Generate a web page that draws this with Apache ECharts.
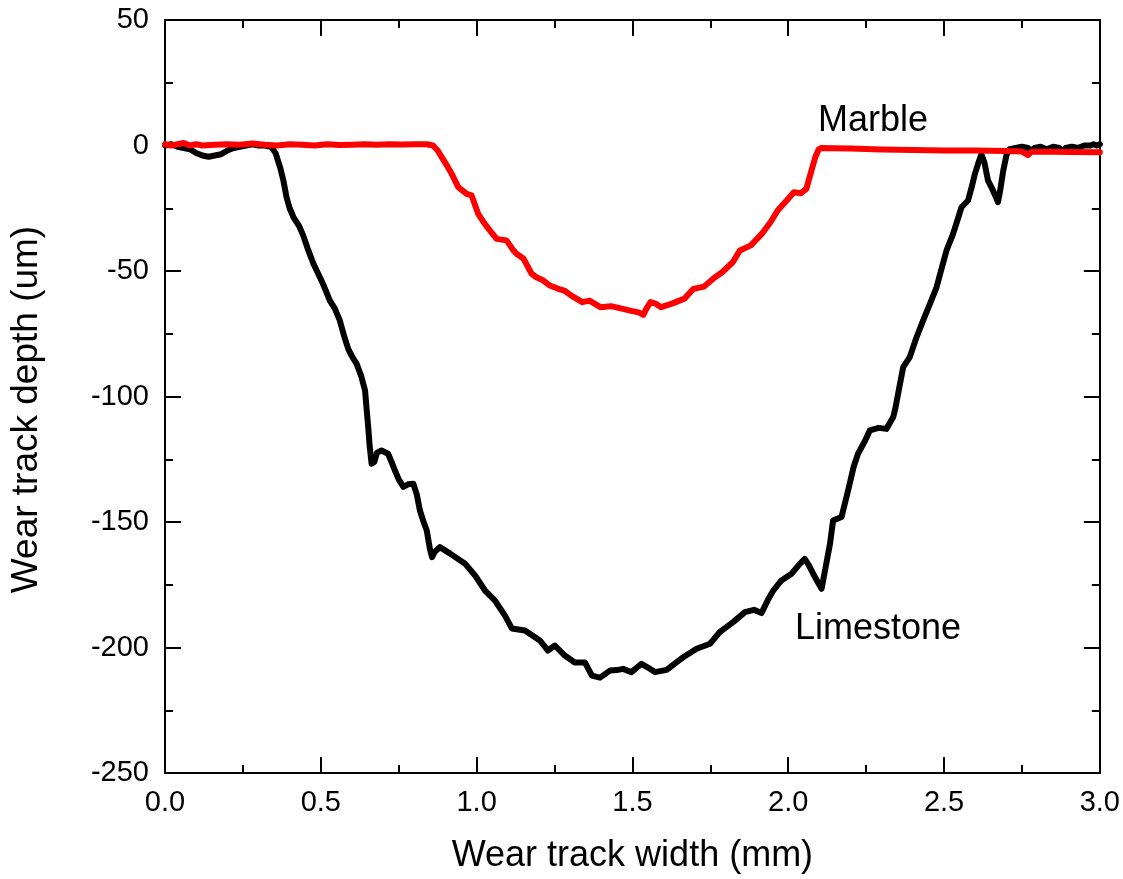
<!DOCTYPE html>
<html>
<head>
<meta charset="utf-8">
<script src="https://cdn.jsdelivr.net/npm/echarts@6/dist/echarts.min.js"></script>
<style>html,body{margin:0;padding:0;background:#fff}#chart{width:1123px;height:879px}</style>
</head>
<body>
<div id="chart"></div>
<script>
// ---- data ----
const limestoneX = [0.00,0.02,0.04,0.06,0.08,0.10,0.12,0.14,0.16,0.18,0.20,0.22,0.24,0.26,0.28,0.30,0.32,0.34,0.355,0.37,0.38,0.39,0.40,0.412,0.43,0.444,0.46,0.476,0.497,0.51,0.529,0.545,0.561,0.575,0.588,0.60,0.615,0.63,0.642,0.647,0.652,0.657,0.663,0.672,0.68,0.695,0.716,0.73,0.738,0.75,0.765,0.78,0.797,0.808,0.818,0.83,0.84,0.85,0.857,0.865,0.882,0.914,0.962,0.995,1.027,1.059,1.091,1.113,1.155,1.203,1.229,1.251,1.283,1.315,1.348,1.37,1.396,1.428,1.45,1.47,1.497,1.529,1.55,1.572,1.61,1.64,1.663,1.706,1.749,1.78,1.823,1.861,1.89,1.914,1.935,1.952,1.978,2.011,2.035,2.053,2.065,2.08,2.095,2.107,2.12,2.134,2.144,2.171,2.192,2.21,2.224,2.245,2.262,2.29,2.315,2.337,2.345,2.357,2.369,2.39,2.41,2.433,2.455,2.476,2.49,2.508,2.529,2.545,2.556,2.577,2.59,2.599,2.61,2.62,2.63,2.641,2.657,2.668,2.673,2.68,2.69,2.70,2.71,2.73,2.75,2.77,2.78,2.79,2.81,2.83,2.85,2.87,2.88,2.89,2.91,2.93,2.95,2.97,2.98,2.99,3.00];
const limestoneY = [0,0.5,-0.5,-1,-1.5,-3,-4,-4.5,-4,-3.5,-2,-1,-0.5,0,0.5,0,0,-0.5,-3,-9,-14,-20.6,-25,-28.5,-32,-36,-41.8,-47,-52.5,-56,-61.8,-65,-69.7,-76,-81,-84,-87,-92,-97.6,-105,-112,-120,-126.8,-126,-122.5,-121.5,-122.8,-127,-129.5,-133,-136,-135,-134.8,-139,-145.4,-150,-153.4,-160.7,-164,-162,-160,-162.5,-166.5,-171.3,-177.3,-181.3,-187.3,-192.4,-193.2,-197.2,-201.2,-199.2,-203.2,-206,-206,-211.2,-212,-209.2,-209,-208.5,-209.8,-206.5,-208,-209.8,-208.9,-206,-203.9,-200.5,-198.5,-193.9,-189.9,-185.9,-185,-186.3,-181,-177.3,-173.3,-170.6,-167,-164.7,-167,-170.6,-174,-176.6,-168,-158.7,-149.4,-148,-137.5,-128,-122.8,-118,-113.5,-112.5,-112.9,-108.2,-104,-96,-88.3,-84.3,-77,-69.7,-63,-56.5,-50,-41.8,-35.2,-29,-24.6,-21.9,-16,-11.3,-7,-3.5,-7,-13.9,-17.9,-21,-22.6,-18,-10,-4,-1.5,-1,-0.5,-1,-2,-1,-0.5,-1.5,-0.5,-1,-2,-1,-0.5,-1,0,0,0.5,0,0.5];

const marbleX = [0.00,0.02,0.04,0.06,0.08,0.10,0.12,0.16,0.20,0.24,0.28,0.32,0.36,0.40,0.44,0.48,0.52,0.56,0.60,0.64,0.68,0.72,0.76,0.80,0.84,0.86,0.866,0.875,0.888,0.90,0.92,0.941,0.968,0.984,1.005,1.025,1.043,1.064,1.096,1.118,1.128,1.15,1.176,1.192,1.214,1.235,1.26,1.281,1.304,1.339,1.362,1.397,1.431,1.466,1.50,1.52,1.535,1.545,1.558,1.575,1.592,1.627,1.667,1.696,1.73,1.765,1.788,1.822,1.845,1.88,1.915,1.943,1.966,1.995,2.018,2.041,2.058,2.07,2.087,2.098,2.105,2.2,2.3,2.4,2.5,2.6,2.7,2.75,2.77,2.78,2.85,2.9,3.0];
const marbleY = [0.5,0,0.5,1,0,0.5,0,0.3,0.5,0.3,0.8,0.3,0,0.5,0.3,0,0.5,0.2,0.3,0.5,0.3,0.5,0.4,0.5,0.5,0,-0.5,-2,-4.6,-7,-11.3,-16.6,-19.3,-19.9,-27.2,-31,-33.9,-37.2,-37.8,-41.8,-43.1,-45,-51,-52.5,-53.8,-55.8,-57,-57.8,-59.8,-62.4,-61.8,-64.4,-64,-65,-66,-66.5,-67.5,-65,-62.4,-63,-64.4,-63,-61,-57.1,-56.2,-52.5,-50.5,-46.5,-41.8,-39.8,-35.2,-30.6,-25.9,-21.9,-18.6,-19,-17.3,-12,-4.6,-1.5,-1,-1.2,-1.6,-1.8,-2,-2,-2.2,-2.4,-3.8,-2.5,-2.5,-2.6,-2.7];

const xTitle = 'Wear track width (mm)';
const yTitle = 'Wear track depth (um)';
const labelMarble = 'Marble';
const labelLimestone = 'Limestone';

// ---- chart ----
const FONT = '"Liberation Sans", Arial, Helvetica, sans-serif';
const pair = (xs, ys) => xs.map((x, i) => [x, ys[i]]);

const tickCommon = {
  axisLine: { show: true, onZero: false, lineStyle: { color: '#000', width: 2 } },
  axisTick: { show: true, inside: true, length: 16, lineStyle: { color: '#000', width: 2 } },
  minorTick: { show: true, splitNumber: 2, length: 8, lineStyle: { color: '#000', width: 2 } },
  splitLine: { show: false },
  minorSplitLine: { show: false }
};

const chart = echarts.init(document.getElementById('chart'), null, { renderer: 'canvas' });
chart.setOption({
  backgroundColor: '#fff',
  animation: false,
  grid: { left: 165, right: 22, top: 20, bottom: 105, containLabel: false },
  xAxis: [
    Object.assign({
      type: 'value', min: 0, max: 3, interval: 0.5, position: 'bottom',
      name: xTitle, nameLocation: 'middle', nameGap: 65,
      nameTextStyle: { fontFamily: FONT, fontSize: 36, color: '#000' },
      axisLabel: { margin: 15, fontFamily: FONT, fontSize: 29, color: '#000',
        formatter: v => v.toFixed(1) }
    }, tickCommon),
    Object.assign({
      type: 'value', min: 0, max: 3, interval: 0.5, position: 'top',
      axisLabel: { show: false }
    }, tickCommon)
  ],
  yAxis: [
    Object.assign({
      type: 'value', min: -250, max: 50, interval: 50, position: 'left',
      name: yTitle, nameLocation: 'middle', nameGap: 120,
      nameTextStyle: { fontFamily: FONT, fontSize: 37, color: '#000', padding: [0, 26, 0, 0] },
      axisLabel: { margin: 16, fontFamily: FONT, fontSize: 29, color: '#000' }
    }, tickCommon),
    Object.assign({
      type: 'value', min: -250, max: 50, interval: 50, position: 'right',
      axisLabel: { show: false }
    }, tickCommon)
  ],
  series: [
    {
      name: labelLimestone, type: 'line', xAxisIndex: 0, yAxisIndex: 0,
      data: pair(limestoneX, limestoneY), showSymbol: false, smooth: false,
      lineStyle: { color: '#000', width: 6, join: 'round', cap: 'round' }, z: 2
    },
    {
      name: labelMarble, type: 'line', xAxisIndex: 0, yAxisIndex: 0,
      data: pair(marbleX, marbleY), showSymbol: false, smooth: false,
      lineStyle: { color: '#ff0000', width: 6, join: 'round', cap: 'round' }, z: 3
    }
  ],
  graphic: [
    { type: 'text', left: 818, top: 103, style: { text: labelMarble, font: '36px ' + FONT, fill: '#000' } },
    { type: 'text', left: 795, top: 611, style: { text: labelLimestone, font: '36px ' + FONT, fill: '#000' } }
  ]
});
</script>
</body>
</html>
